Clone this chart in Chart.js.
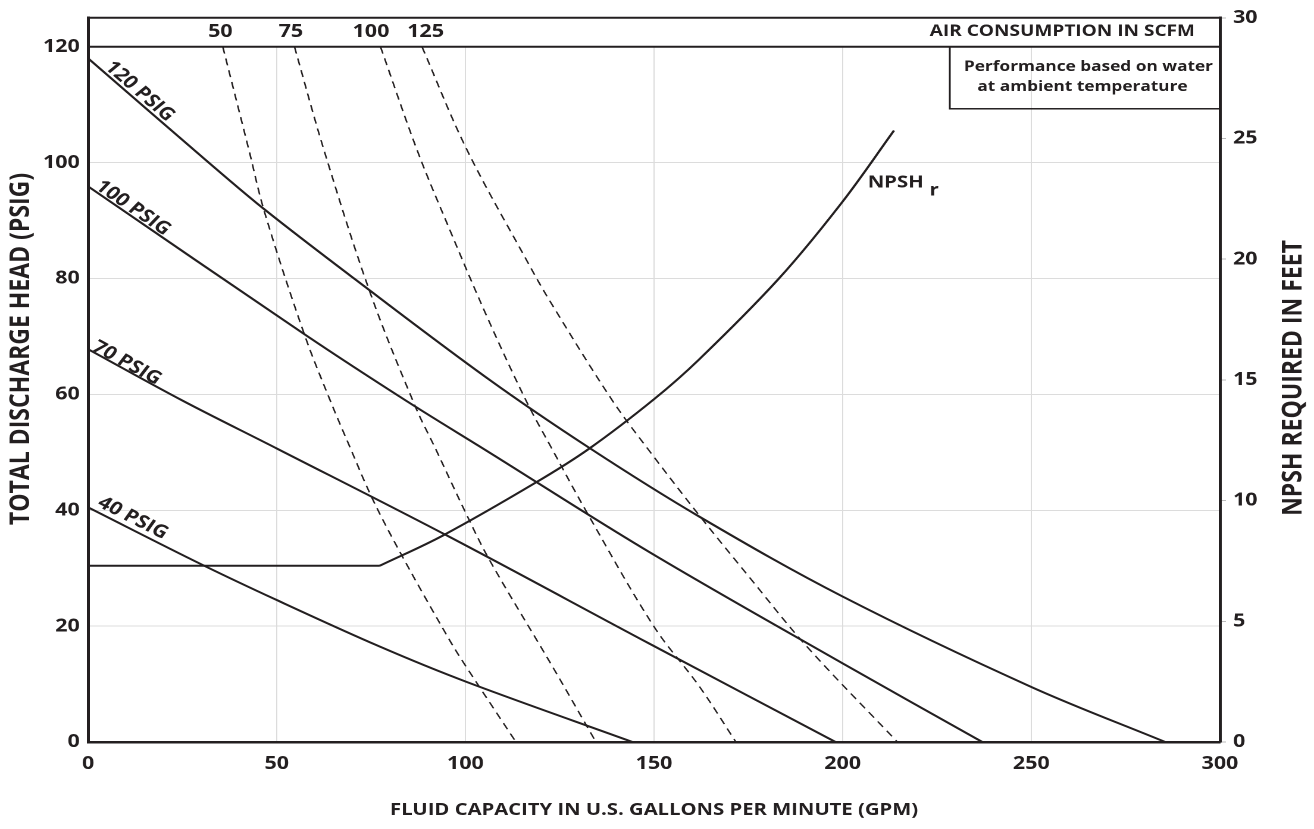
<!DOCTYPE html>
<html>
<head>
<meta charset="utf-8">
<script src="https://cdn.jsdelivr.net/npm/chart.js@4.4.1/dist/chart.umd.min.js"></script>
<style>
  html, body { margin: 0; padding: 0; background: #fff; }
  #chart { display: block; }
</style>
</head>
<body>
<!-- the original artwork is stretched sideways, so the canvas is drawn narrow and widened by its inline size -->
<canvas id="chart" width="1104" height="829" style="width:1314px;height:829px"></canvas>
<script>
// points are [gpm, value]
const psig120 = [[0, 118], [32, 100], [47, 91.8], [70.5, 80], [106, 62.7], [133, 50.7], [162, 38.9], [200, 25.1], [250, 9.5], [285.5, 0]];
const psig100 = [[0, 95.9], [57.3, 70.4], [84.3, 58.9], [105.8, 50.2], [148.7, 32.8], [199.9, 13.6], [237, 0]];
const psig70 = [[0, 67.8], [25.1, 58.9], [50.2, 50.6], [95.8, 35.4], [148.7, 17.0], [198.1, 0]];
const psig40 = [[0, 40.5], [29.6, 30.8], [50, 24.5], [77.2, 16.5], [100.2, 10.4], [144.3, 0]];

// air consumption lines (scfm), read on the head axis
const scfm50 = [[35.7, 120], [42.7, 102], [46.7, 91.6], [57.3, 70.4], [64.2, 58.9], [69.2, 51.2], [75.5, 41.8], [83.4, 31.9], [95.8, 17.6], [100.2, 13.0], [113.4, 0]];
const scfm75 = [[54.7, 120], [62.6, 102], [74.9, 77.3], [86.8, 57.8], [92.1, 50.6], [100.2, 39.4], [106.4, 31.4], [123.1, 13.0], [134.6, 0]];
const scfm100 = [[77.5, 120], [87.3, 102], [95.8, 88.5], [105.8, 73.3], [116.1, 58.9], [122.7, 50.9], [132.4, 39.4], [150, 19.9], [162, 9.6], [171.7, 0]];
const scfm125 = [[88.5, 120], [100.2, 102.5], [116.1, 83.3], [122.5, 76], [139, 58.9], [148.7, 50.3], [162, 39.1], [175.2, 28.5], [190.2, 16.7], [214.5, 0]];

// npsh required, feet (right axis); flat up to the second point
const npshFeet = [[0, 7.3], [77.3, 7.3], [94, 8.55], [118.7, 10.75], [132.8, 12.15], [150, 14.2], [161.9, 15.84], [183.1, 19.2], [199.9, 22.37], [213.6, 25.33]];

const psigNames = ['120 PSIG', '100 PSIG', '70 PSIG', '40 PSIG'];
const scfmNames = ['50', '75', '100', '125'];

const INK = '#231f20';
const GRID = '#dcdcdc';
const FONT = '"Open Sans", "Noto Sans", sans-serif';

function toXY(pts) {
    return pts.map(p => ({ x: p[0], y: p[1] }));
}

function curve(pts, dashed, axis) {
    return {
        data: toXY(pts),
        yAxisID: axis || 'y',
        borderColor: INK,
        borderWidth: dashed ? 1.3 : 2,
        borderDash: dashed ? [7, 5] : [],
        pointRadius: 0,
        fill: false,
        tension: 0.35
    };
}

const psigSeries = [psig120, psig100, psig70, psig40];
const scfmSeries = [scfm50, scfm75, scfm100, scfm125];

// where each psig label sits along its curve (canvas px)
const psigLabelPos = [
    { along: 16, lift: 3 },
    { along: 5, lift: 2 },
    { along: 2, lift: 1 },
    { along: 5, lift: 5 }
];
// small sideways nudges of the scfm labels (canvas px)
const scfmNudge = [-2, -3, -8, 3];

const extras = {
    id: 'extras',
    afterDraw(chart) {
        const ctx = chart.ctx;
        const area = chart.chartArea;
        const x = chart.scales.x;
        const y = chart.scales.y;
        const y1 = chart.scales.y1;
        const y120 = y.getPixelForValue(120);

        ctx.save();

        //Top band for air consumption
        ctx.fillStyle = '#fff';
        ctx.fillRect(area.left + 1.5, area.top, area.right - area.left - 3, y120 - area.top);
        ctx.strokeStyle = INK;
        ctx.lineWidth = 2;
        ctx.beginPath();
        ctx.moveTo(area.left, y120);
        ctx.lineTo(area.right, y120);
        ctx.moveTo(area.left - 1, area.top);
        ctx.lineTo(area.right + 1, area.top);
        ctx.stroke();

        ctx.fillStyle = INK;
        ctx.font = 'bold 18px ' + FONT;
        ctx.textAlign = 'center';
        ctx.textBaseline = 'alphabetic';
        scfmSeries.forEach((s, i) => {
            ctx.fillText(scfmNames[i], x.getPixelForValue(s[0][0]) + scfmNudge[i], 37);
        });
        ctx.font = 'bold 16px ' + FONT;
        ctx.textAlign = 'right';
        ctx.fillText('AIR CONSUMPTION IN SCFM', area.right - 21, 36);

        //Note box
        const boxL = area.right - 227;
        ctx.lineWidth = 1.5;
        ctx.strokeRect(boxL, y120, area.right - boxL, 62);
        ctx.font = 'bold 14.5px ' + FONT;
        ctx.textAlign = 'center';
        const boxC = (boxL + area.right) / 2;
        ctx.fillText('Performance based on water', boxC + 3, y120 + 24);
        ctx.fillText('at ambient temperature', boxC - 2, y120 + 44);

        //Curve labels
        ctx.font = 'bold 18px ' + FONT;
        ctx.textAlign = 'left';
        psigSeries.forEach((s, i) => {
            const x0 = x.getPixelForValue(s[0][0]), yy0 = y.getPixelForValue(s[0][1]);
            const x1 = x.getPixelForValue(s[1][0]), yy1 = y.getPixelForValue(s[1][1]);
            const ang = Math.atan2(yy1 - yy0, x1 - x0);
            ctx.save();
            ctx.translate(x0, yy0);
            ctx.rotate(ang);
            ctx.fillText(psigNames[i], psigLabelPos[i].along, -psigLabelPos[i].lift);
            ctx.restore();
        });

        ctx.font = 'bold 17px ' + FONT;
        const last = npshFeet[npshFeet.length - 1];
        const nx = x.getPixelForValue(last[0]) - 22;
        const ny = y1.getPixelForValue(last[1]) + 57;
        ctx.fillText('NPSH', nx, ny);
        ctx.fillText('r', nx + ctx.measureText('NPSH').width + 5, ny + 8);

        //Axis titles
        ctx.font = 'bold 17px ' + FONT;
        ctx.textAlign = 'center';
        ctx.fillText('FLUID CAPACITY IN U.S. GALLONS PER MINUTE (GPM)', (area.left + area.right) / 2, 815);

        ctx.font = 'bold 23px ' + FONT;
        ctx.textBaseline = 'middle';
        ctx.save();
        ctx.translate(18, 349);
        ctx.rotate(-Math.PI / 2);
        ctx.fillText('TOTAL DISCHARGE HEAD (PSIG)', 0, 0);
        ctx.restore();

        ctx.save();
        ctx.translate(1087, 378);
        ctx.rotate(-Math.PI / 2);
        ctx.fillText('NPSH REQUIRED IN FEET', 0, 0);
        ctx.restore();

        ctx.restore();
    }
};

const datasets = [];
psigSeries.forEach(s => datasets.push(curve(s, false)));
scfmSeries.forEach(s => datasets.push(curve(s, true)));
// flat run and rising part of the npsh curve meet in a sharp corner
datasets.push(curve(npshFeet.slice(0, 2), false, 'y1'));
datasets.push(curve(npshFeet.slice(1), false, 'y1'));

const tickFont = { family: FONT, size: 18, weight: 'bold' };

new Chart(document.getElementById('chart'), {
    type: 'line',
    data: { datasets: datasets },
    options: {
        responsive: false,
        devicePixelRatio: 2,
        animation: false,
        layout: { padding: { top: 15, left: 0, right: 0, bottom: 0 } },
        plugins: { legend: { display: false }, tooltip: { enabled: false } },
        scales: {
            x: {
                type: 'linear',
                min: 0,
                max: 300,
                ticks: { stepSize: 50, font: tickFont, color: INK, padding: 11 },
                grid: { color: GRID, lineWidth: 1, drawTicks: false },
                border: { color: INK, width: 2.5 },
                afterFit: s => { s.height = 87; }
            },
            y: {
                position: 'left',
                min: 0,
                max: 125,
                afterBuildTicks: s => { s.ticks = s.ticks.filter(t => t.value % 20 === 0); },
                ticks: { stepSize: 20, font: tickFont, color: INK, padding: 7 },
                grid: {
                    color: c => (c.tick && (c.tick.value === 0 || c.tick.value === 120)) ? 'rgba(0,0,0,0)' : GRID,
                    lineWidth: 1,
                    drawTicks: false
                },
                border: { color: INK, width: 2.5 },
                afterFit: s => { s.width = 74; }
            },
            y1: {
                position: 'right',
                min: 0,
                max: 30,
                ticks: { stepSize: 5, font: tickFont, color: INK, padding: 6 },
                grid: { drawOnChartArea: false, drawTicks: true, tickLength: 5, color: '#bbbbbb' },
                border: { display: true, color: INK, width: 2.5 },
                afterFit: s => { s.width = 79; }
            }
        }
    },
    plugins: [extras]
});
</script>
</body>
</html>
